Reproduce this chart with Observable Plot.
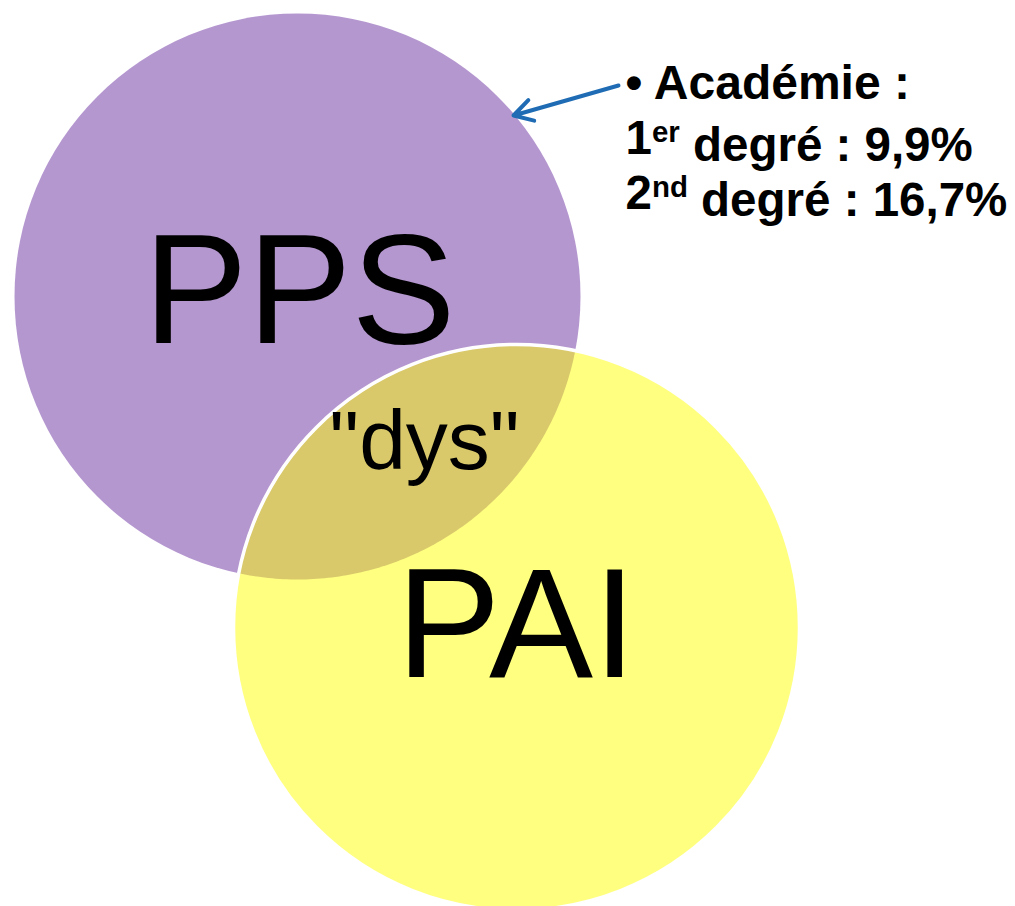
<!DOCTYPE html>
<html>
<head>
<meta charset="utf-8">
<script src="https://cdn.jsdelivr.net/npm/d3@7"></script>
<script src="https://cdn.jsdelivr.net/npm/@observablehq/plot@0.6"></script>
<style>
  html, body { margin: 0; padding: 0; background: #ffffff; }
  #chart svg { display: block; }
</style>
</head>
<body>
<div id="chart"></div>
<script>
// ---- data ----
const setNames = ["PPS", "PAI"];
const intersectionLabel = "\"dys\"";
const annotationTitle = "• Académie :";
const annotationPre = ["1", "2"];
const annotationSup = ["er", "nd"];
const annotationPost = [" degré : 9,9%", " degré : 16,7%"];

// ---- layout (pixel space) ----
const W = 1015, H = 906;
const centersX = [297, 516];
const centersY = [296, 627];
const radius = 283;
const setFills = ["#b597d0", "#ffff80"];
const lensFill = "#d9c96b";

const circles = setNames.map((name, i) => ({name, cx: centersX[i], cy: centersY[i], r: radius, fill: setFills[i]}));

// lens polygon derived from the two circles
function lens(a, b, n = 120) {
  const dx = b.cx - a.cx, dy = b.cy - a.cy, d = Math.hypot(dx, dy);
  const aa = (a.r * a.r - b.r * b.r + d * d) / (2 * d);
  const alpha = Math.acos(aa / a.r);
  const beta = Math.acos((d - aa) / b.r);
  const phiA = Math.atan2(dy, dx), phiB = phiA + Math.PI;
  const pts = [];
  for (let k = 0; k <= n; k++) {
    const t = phiA - alpha + (2 * alpha * k) / n;
    pts.push({x: a.cx + a.r * Math.cos(t), y: a.cy + a.r * Math.sin(t)});
  }
  for (let k = 0; k <= n; k++) {
    const t = phiB - beta + (2 * beta * k) / n;
    pts.push({x: b.cx + b.r * Math.cos(t), y: b.cy + b.r * Math.sin(t)});
  }
  return pts;
}
const lensPts = lens(circles[0], circles[1]);

const labelRows = [
  {text: setNames[0], x: 299, y: 342},
  {text: setNames[1], x: 516, y: 676}
];
const dysRow = [{text: intersectionLabel, x: 424, y: 468}];

const annotRows = annotationPre.map((p, i) => ({
  text: p + annotationSup[i] + annotationPost[i], x: 625, y: 153 + 55 * i
}));

const chart = Plot.plot({
  width: W, height: H,
  margin: 0,
  x: {domain: [0, W], range: [0, W], axis: null},
  y: {domain: [0, H], range: [0, H], axis: null},
  style: {background: "#ffffff", fontFamily: "'Liberation Sans', Arial, sans-serif"},
  marks: [
    Plot.dot([circles[0]], {x: "cx", y: "cy", r: radius, fill: setFills[0], stroke: "none"}),
    Plot.dot([circles[1]], {x: "cx", y: "cy", r: radius, fill: setFills[1], stroke: "none"}),
    Plot.line(lensPts, {x: "x", y: "y", fill: lensFill, stroke: "none", curve: "linear-closed"}),
    Plot.dot([circles[1]], {x: "cx", y: "cy", r: radius, fill: "none", stroke: "#ffffff", strokeWidth: 3.5}),
    Plot.text(labelRows, {x: "x", y: "y", text: "text", fontSize: 156, fill: "#000", textAnchor: "middle", lineAnchor: "bottom"}),
    Plot.text(dysRow, {x: "x", y: "y", text: "text", fontSize: 84, fill: "#000", textAnchor: "middle", lineAnchor: "bottom"}),
    Plot.arrow([{x1: 618, y1: 85, x2: 513, y2: 115}], {x1: "x1", y1: "y1", x2: "x2", y2: "y2", stroke: "#1f6cb5", strokeWidth: 4}),
    Plot.text([{text: annotationTitle, x: 625, y: 98}], {x: "x", y: "y", text: "text", fontSize: 48, fontWeight: "bold", fill: "#000", textAnchor: "start", lineAnchor: "bottom"}),
    Plot.text(annotRows, {x: "x", y: "y", text: "text", fontSize: 47.5, fontWeight: "bold", fill: "#000", textAnchor: "start", lineAnchor: "bottom"})
  ]
});

// superscripts as tspans
d3.select(chart).selectAll("text").each(function () {
  const t = this.textContent;
  const i = annotRows.findIndex(r => r.text === t);
  if (i < 0) return;
  const sel = d3.select(this);
  sel.text(null);
  sel.append("tspan").text(annotationPre[i]);
  sel.append("tspan").attr("font-size", "62%").attr("dy", "-0.4em").text(annotationSup[i]);
  sel.append("tspan").attr("dy", "0.4em").text(annotationPost[i]);
});

document.getElementById("chart").appendChild(chart);
</script>
</body>
</html>
